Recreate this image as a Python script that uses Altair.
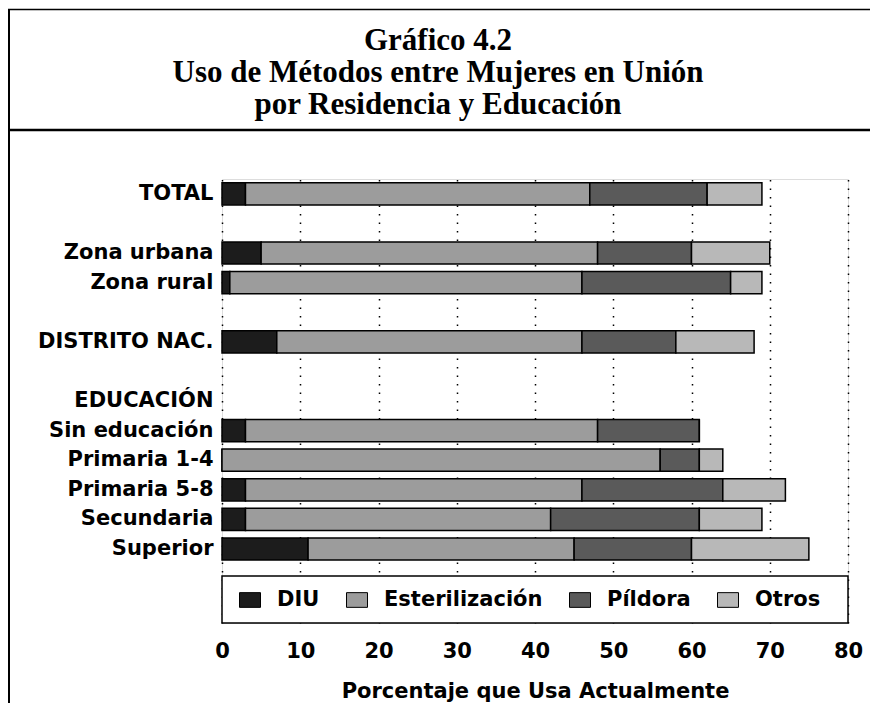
import altair as alt
import pandas as pd

# Row layout of the chart (blank rows are spacers, "EDUCACIÓN" is a heading row)
rows = ["TOTAL", "_b1", "Zona urbana", "Zona rural", "_b2", "DISTRITO NAC.", "_b3",
        "EDUCACIÓN", "Sin educación", "Primaria 1-4", "Primaria 5-8", "Secundaria",
        "Superior", "_b4", "_b5"]
groups = ["TOTAL", "Zona urbana", "Zona rural", "DISTRITO NAC.", "Sin educación",
          "Primaria 1-4", "Primaria 5-8", "Secundaria", "Superior"]
methods = ["DIU", "Esterilización", "Píldora", "Otros"]
diu = [3, 5, 1, 7, 3, 0, 3, 3, 11]
esterilizacion = [44, 43, 45, 39, 45, 56, 43, 39, 34]
pildora = [15, 12, 19, 12, 13, 5, 18, 19, 15]
otros = [7, 10, 4, 10, 0, 3, 8, 8, 15]
colors = ["#1c1c1c", "#9c9c9c", "#5a5a5a", "#b8b8b8"]
x_ticks = [0, 10, 20, 30, 40, 50, 60, 70, 80]
title_lines = ["Gráfico 4.2", "Uso de Métodos entre Mujeres en Unión",
               "por Residencia y Educación"]

records = []
for series_i, (m, vals) in enumerate(zip(methods, [diu, esterilizacion, pildora, otros])):
    for g, v in zip(groups, vals):
        records.append({"grupo": g, "metodo": m, "valor": v, "orden": series_i})
df = pd.DataFrame(records)

W, H = 626, 444
LABEL_FONT = "DejaVu Sans"

bars = alt.Chart(df).mark_bar(stroke="black", strokeWidth=1.5).encode(
    x=alt.X("valor:Q", stack="zero",
            scale=alt.Scale(domain=[0, 80], nice=False, zero=True),
            axis=alt.Axis(values=x_ticks, grid=True, gridDash=[1.5, 7], gridColor="black",
                          gridWidth=1.5, gridOpacity=1, ticks=False, domain=False,
                          labelFont=LABEL_FONT, labelFontSize=21, labelFontWeight="bold",
                          labelColor="black", labelPadding=34, labelBaseline="alphabetic",
                          labelFlush=False,
                          title="Porcentaje que Usa Actualmente", titleFont=LABEL_FONT,
                          titleFontSize=21, titleFontWeight="bold", titleColor="black",
                          titleY=74, titleBaseline="alphabetic")),
    y=alt.Y("grupo:N",
            scale=alt.Scale(domain=rows, paddingInner=0.25, paddingOuter=0.125),
            axis=alt.Axis(labelExpr="indexof(datum.value, '_') == 0 ? '' : datum.value",
                          ticks=False, domain=False, title=None,
                          labelFont=LABEL_FONT, labelFontSize=21, labelFontWeight="bold",
                          labelColor="black", labelPadding=9, labelLimit=400)),
    color=alt.Color("metodo:N", scale=alt.Scale(domain=methods, range=colors),
                    legend=alt.Legend(title=None, orient="none", legendX=17, legendY=410,
                                      direction="horizontal", columns=4,
                                      symbolType="M-1,-0.7H1V0.7H-1Z", symbolSize=441,
                                      symbolStrokeColor="black", symbolStrokeWidth=1,
                                      symbolOpacity=1,
                                      labelFont=LABEL_FONT, labelFontSize=21,
                                      labelFontWeight="bold", labelColor="black",
                                      labelOffset=16, columnPadding=24, padding=0,
                                      labelLimit=400)),
    order=alt.Order("orden:Q"),
)

one = pd.DataFrame({"k": [0]})
legend_box = alt.Chart(one).mark_rect(fill="white", stroke="black", strokeWidth=1.5).encode(
    x=alt.value(0), x2=alt.value(W), y=alt.value(397), y2=alt.value(H))

top_line = alt.Chart(one).mark_rule(color="black", strokeWidth=1.5).encode(
    x=alt.value(-214), x2=alt.value(660), y=alt.value(-169.5))
title_line = alt.Chart(one).mark_rule(color="black", strokeWidth=2.5).encode(
    x=alt.value(-214), x2=alt.value(660), y=alt.value(-49))
left_line = alt.Chart(one).mark_rule(color="black", strokeWidth=2).encode(
    x=alt.value(-213), y=alt.value(-169.5), y2=alt.value(540))

title_text = alt.Chart(one).mark_text(
    text=title_lines, font="Liberation Serif", fontSize=31, fontWeight="bold",
    lineHeight=32, align="center", baseline="alphabetic", color="black",
).encode(x=alt.value(216), y=alt.value(-129))

chart = alt.layer(bars, legend_box, top_line, title_line, left_line, title_text).properties(
    width=W, height=H,
    autosize=alt.AutoSizeParams(type="none"),
    padding={"left": 214, "top": 171, "right": 22, "bottom": 80},
).configure_view(stroke="black", strokeWidth=1.5).configure(background="white")

chart.save("out.html", embed_options={"renderer": "svg", "actions": False})
